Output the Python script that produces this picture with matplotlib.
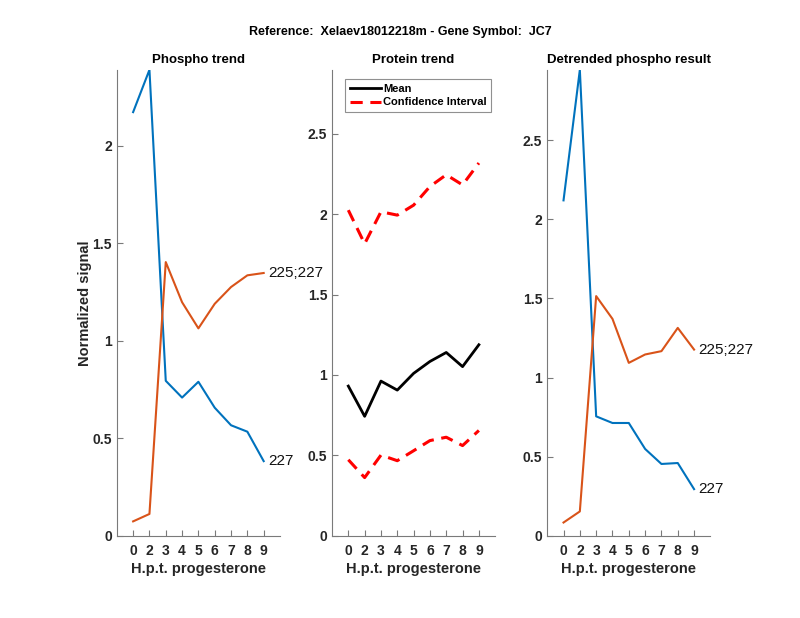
import numpy as np
import matplotlib
matplotlib.use('Agg')
import matplotlib.pyplot as plt

plt.rcParams['font.family'] = ['Liberation Sans', 'DejaVu Sans']

# time points (hours post progesterone)
hpt_labels = ['0', '2', '3', '4', '5', '6', '7', '8', '9']

# phospho trend
phospho_227 = [2.173, 2.39, 0.795, 0.709, 0.79, 0.657, 0.567, 0.534, 0.383]
phospho_225_227 = [0.074, 0.112, 1.404, 1.198, 1.064, 1.19, 1.276, 1.336, 1.348]

# protein trend
protein_mean = [0.931, 0.743, 0.962, 0.906, 1.010, 1.084, 1.140, 1.052, 1.188]
protein_ci_hi = [2.025, 1.816, 2.015, 1.994, 2.056, 2.172, 2.245, 2.182, 2.318]
protein_ci_lo = [0.473, 0.362, 0.502, 0.467, 0.529, 0.592, 0.613, 0.561, 0.655]

# detrended
detr_227 = [2.12, 2.945, 0.755, 0.713, 0.713, 0.549, 0.454, 0.46, 0.295]
detr_225_227 = [0.084, 0.154, 1.515, 1.371, 1.093, 1.146, 1.167, 1.314, 1.177]

blue = '#0072BD'
orange = '#D95319'
axcol = '#262626'
linecol = '#7a7a7a'

fig = plt.figure(figsize=(8, 6.18), dpi=100)
fig.text(0.5, 0.949, 'Reference:  Xelaev18012218m - Gene Symbol:  JC7',
         ha='center', va='center', fontsize=9, fontweight='bold')

lefts = [0.146, 0.415, 0.684]
axes = [fig.add_axes([l, 0.133, 0.204, 0.754]) for l in lefts]
x = np.arange(1, len(hpt_labels) + 1)


def style(ax, title, ymax, yticks):
    ax.set_xlim(0, 10)
    ax.set_ylim(0, ymax)
    ax.set_xticks(x)
    ax.set_xticklabels(hpt_labels)
    ax.set_yticks(yticks)
    ax.set_yticklabels(['%g' % t for t in yticks])
    ax.spines['top'].set_visible(False)
    ax.spines['right'].set_visible(False)
    for s in ['left', 'bottom']:
        ax.spines[s].set_color(linecol)
        ax.spines[s].set_linewidth(0.8)
    ax.tick_params(direction='in', length=4, width=0.8, color=linecol,
                   labelsize=10, labelcolor=axcol)
    ax.tick_params(axis='x', pad=6)
    for lab in ax.get_xticklabels() + ax.get_yticklabels():
        lab.set_fontweight('bold')
    ax.set_title(title, fontsize=9.5, fontweight='bold', pad=5)
    ax.set_xlabel('H.p.t. progesterone', fontsize=10.5, fontweight='bold',
                  color=axcol, labelpad=3)


ax = axes[0]
ax.plot(x, phospho_227, color=blue, lw=1.5)
ax.plot(x, phospho_225_227, color=orange, lw=1.5)
ax.text(9.25, phospho_227[-1], '227', va='center', fontsize=11, color='#111111')
ax.text(9.25, phospho_225_227[-1], '225;227', va='center', fontsize=11, color='#111111')
style(ax, 'Phospho trend', max(phospho_227), [0, 0.5, 1, 1.5, 2])
ax.set_ylabel('Normalized signal', fontsize=10.5, fontweight='bold',
              color=axcol, labelpad=0)

ax = axes[1]
ax.plot(x, protein_mean, color='black', lw=2, label='Mean')
ax.plot(x, protein_ci_hi, color='red', lw=2.2, ls=(0, (4, 2.5)),
        label='Confidence Interval')
ax.plot(x, protein_ci_lo, color='red', lw=2.2, ls=(0, (4, 2.5)))
style(ax, 'Protein trend', 1.25 * max(protein_ci_hi), [0, 0.5, 1, 1.5, 2, 2.5])
leg = ax.legend(loc='upper left', bbox_to_anchor=(0.08, 0.98),
                prop={'weight': 'bold', 'size': 8}, fancybox=False,
                framealpha=1, edgecolor='#909090', borderpad=0.4,
                handlelength=2.8, handletextpad=0.25, labelspacing=0.35,
                borderaxespad=0)
leg.get_frame().set_linewidth(0.8)

ax = axes[2]
ax.plot(x, detr_227, color=blue, lw=1.5)
ax.plot(x, detr_225_227, color=orange, lw=1.5)
ax.text(9.25, detr_227[-1], '227', va='center', fontsize=11, color='#111111')
ax.text(9.25, detr_225_227[-1], '225;227', va='center', fontsize=11, color='#111111')
style(ax, 'Detrended phospho result', max(detr_227), [0, 0.5, 1, 1.5, 2, 2.5])

fig.savefig('out.png', dpi=100)
